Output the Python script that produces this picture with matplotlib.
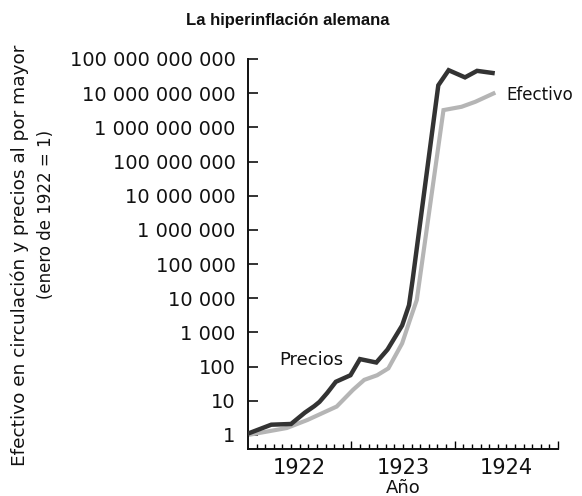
import matplotlib
matplotlib.use("Agg")
import matplotlib.pyplot as plt
from matplotlib.ticker import FixedLocator, NullFormatter, FixedFormatter
import numpy as np

# Data (months after January 1922, index value with January 1922 = 1)
precios_meses = [0, 2.7, 5.0, 6.6, 7.7, 8.3, 9.2, 10.2, 11.9, 13.0, 14.9, 16.2,
                 17.9, 18.7, 19.1, 22.1, 23.3, 25.2, 26.6, 28.4]
precios_valores = [1.1, 2.0, 2.1, 4.5, 7, 9.3, 17, 36, 56, 166, 132, 316,
                   1600, 6300, 32000, 1.7e10, 4.7e10, 2.9e10, 4.5e10, 3.9e10]

efectivo_meses = [0, 4.5, 6.9, 10.3, 12.2, 13.5, 15.0, 16.3, 17.9, 18.8, 19.6,
                  22.7, 24.8, 26.4, 28.5]
efectivo_valores = [1.0, 1.6, 2.75, 6.8, 21, 41, 56, 89, 480, 2300, 8900,
                    3.2e9, 4.0e9, 5.6e9, 9.8e9]

anios = [1922, 1923, 1924]
y_ticks = [1, 10, 100, 1e3, 1e4, 1e5, 1e6, 1e7, 1e8, 1e9, 1e10, 1e11]
y_labels = ["1", "10", "100", "1 000", "10 000", "100 000", "1 000 000",
            "10 000 000", "100 000 000", "1 000 000 000", "10 000 000 000",
            "100 000 000 000"]

plt.rcParams['font.family'] = ['DejaVu Sans']

fig = plt.figure(figsize=(5.82, 4.96), dpi=100)
ax = fig.add_axes([248/582, 47/496, 310/582, 390/496])

px = 1922 + np.array(precios_meses) / 12.0
ex = 1922 + np.array(efectivo_meses) / 12.0

ax.plot(ex, efectivo_valores, color="#b5b5b5", lw=3.0, solid_joinstyle="miter", zorder=2)
ax.plot(px, precios_valores, color="#333333", lw=3.2, solid_joinstyle="miter", zorder=3)

ax.set_yscale("log")
ax.set_ylim(10**-0.41, 1e11)
ax.set_xlim(1922, 1925)

ax.yaxis.set_major_locator(FixedLocator(y_ticks))
ax.yaxis.set_major_formatter(FixedFormatter(y_labels))
ax.yaxis.set_minor_locator(FixedLocator([]))
ax.tick_params(axis="y", which="major", direction="in", length=7, width=1.2,
               labelsize=14, pad=9, colors="#111111")

# x axis: year boundaries as long ticks, months as short ticks
ax.xaxis.set_major_locator(FixedLocator([1923, 1924, 1925]))
ax.xaxis.set_major_formatter(NullFormatter())
ax.xaxis.set_minor_locator(FixedLocator([1922 + m / 12 for m in range(1, 36)]))
ax.xaxis.set_minor_formatter(NullFormatter())
ax.tick_params(axis="x", which="major", direction="in", length=6, width=1.0)
ax.tick_params(axis="x", which="minor", direction="in", length=3.5, width=1.0)
for a in anios:
    ax.text(a + 0.5, -0.022, str(a), transform=ax.get_xaxis_transform(),
            ha="center", va="top", fontsize=15, color="#111111")

for s in ["top", "right"]:
    ax.spines[s].set_visible(False)
for s in ["left", "bottom"]:
    ax.spines[s].set_linewidth(1.4)
    ax.spines[s].set_color("#111111")

ax.text(1922.3, 10**2.2, "Precios", fontsize=13, ha="left",
        va="center", color="#111111")
ax.text(1924.5, 10**9.95, "Efectivo", fontsize=12, ha="left", va="center",
        color="#111111", clip_on=False)

fig.text(403/582, 1 - 488/496, "Año", ha="center", va="center", fontsize=13,
         color="#111111")
fig.text(288/582, 1 - 20/496, "La hiperinflación alemana", ha="center",
         va="center", fontsize=12, fontweight="bold", color="#111111",
         family="Liberation Sans")
fig.text(20/582, 1 - 255/496, "Efectivo en circulación y precios al por mayor",
         rotation=90, ha="center", va="center", fontsize=13.3, color="#111111")
fig.text(46/582, 1 - 214/496, "(enero de 1922 = 1)", rotation=90,
         ha="center", va="center", fontsize=12, color="#111111")

fig.savefig("out.png", dpi=100)
